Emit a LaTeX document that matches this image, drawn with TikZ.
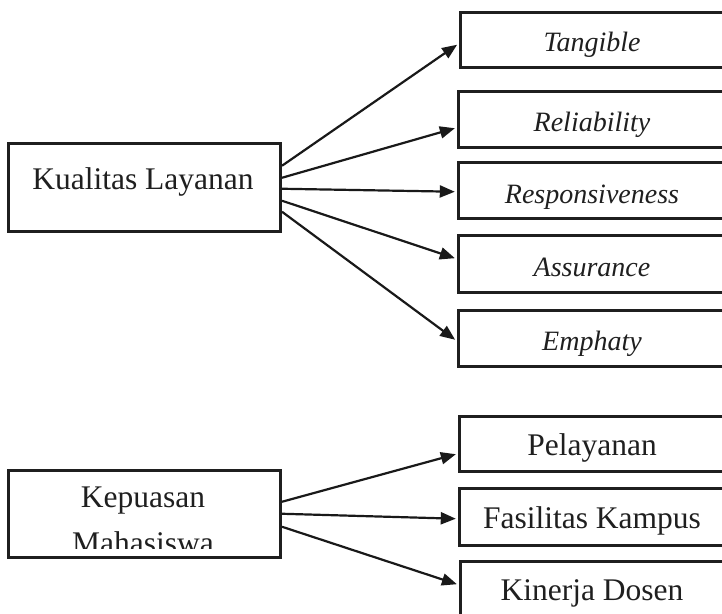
\documentclass[tikz,border=0pt]{standalone}
\usepackage{fontspec}
\setmainfont{Liberation Serif}
\usetikzlibrary{arrows.meta}
\begin{document}
\begin{tikzpicture}[x=1pt,y=-1pt,
  box/.style={draw=black!88, line width=3.5pt, rectangle, inner sep=0pt, anchor=north west},
  sidebox/.style={box, minimum width=270pt},
  mainbox/.style={box, minimum width=272pt},
  uplabel/.style={anchor=base, inner sep=0pt, text=black!88, font=\fontsize{31.5}{37}\selectfont},
  itlabel/.style={anchor=base, inner sep=0pt, text=black!88, font=\fontsize{28}{33}\selectfont\itshape},
  link/.style={draw=black!90, line width=2.2pt, -{Triangle[length=15pt,width=12pt]}, shorten >=1.7pt}
]
\useasboundingbox (0,0) rectangle (722,613);

% Kualitas Layanan and its dimensions
\node[mainbox, minimum height=88pt] (kl) at (6.5,141.5) {};
\node[uplabel] (kltext) at (143,189) {Kualitas Layanan};

\node[sidebox, minimum height=55pt] (tan) at (458.5,10.5) {};
\node[sidebox, minimum height=56pt] (rel) at (456.5,89.5) {};
\node[sidebox, minimum height=56pt] (res) at (456.5,160.5) {};
\node[sidebox, minimum height=57pt] (ass) at (456.5,233.5) {};
\node[sidebox, minimum height=56pt] (emp) at (456.5,308.5) {};

\node[itlabel] (tantext) at (592,51) {Tangible};
\node[itlabel] (reltext) at (592,131) {Reliability};
\node[itlabel] (restext) at (592,203) {Responsiveness};
\node[itlabel] (asstext) at (592,276) {Assurance};
\node[itlabel] (emptext) at (592,350) {Emphaty};

\draw[link] ([yshift=21.5pt]kl.east) -- ([yshift=-4pt]tan.west);
\draw[link] ([yshift=9.5pt]kl.east) -- ([yshift=-8.5pt]rel.west);
\draw[link] ([yshift=-1.5pt]kl.east) -- ([yshift=-1.5pt]res.west);
\draw[link] ([yshift=-13.5pt]kl.east) -- ([yshift=5pt]ass.west);
\draw[link] ([yshift=-24.5pt]kl.east) -- ([yshift=-2.5pt]emp.west);

% Kepuasan Mahasiswa and its dimensions
\node[mainbox, minimum height=87pt] (kep) at (6.5,468.5) {};
\node[uplabel] (keptext) at (143,507) {Kepuasan};
\begin{scope}
  \clip (0,0) rectangle (722,548);
  \node[uplabel] (mhstext) at (143,553) {Mahasiswa};
\end{scope}

\node[sidebox, minimum height=55pt] (pel) at (457.5,414.5) {};
\node[sidebox, minimum height=57pt] (fas) at (457.5,486.5) {};
\node[sidebox, minimum height=56pt] (kin) at (458.5,559.5) {};

\node[uplabel] (peltext) at (592,455) {Pelayanan};
\node[uplabel] (fastext) at (592,528) {Fasilitas Kampus};
\node[uplabel] (kintext) at (592,600) {Kinerja Dosen};

\draw[link] ([yshift=12pt]kep.east) -- ([yshift=-10pt]pel.west);
\draw[link] (kep.east) -- ([yshift=-2pt]fas.west);
\draw[link] ([yshift=-13pt]kep.east) -- ([yshift=4.5pt]kin.west);
\end{tikzpicture}
\end{document}
